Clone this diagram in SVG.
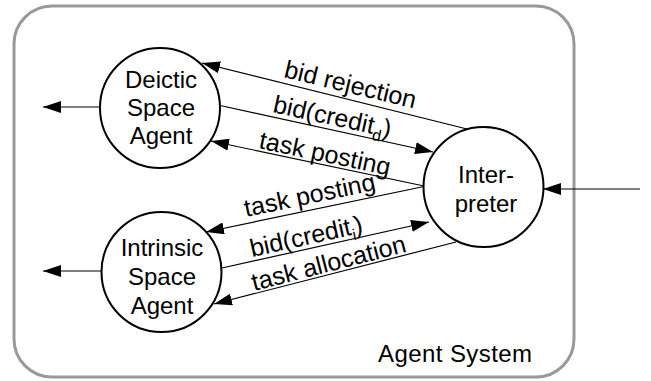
<svg xmlns="http://www.w3.org/2000/svg" width="651" height="381" viewBox="0 0 651 381">
<style>
  .node { fill: #fff; stroke: #000; stroke-width: 2; }
  .lbl { font-family: "Liberation Sans", Arial, sans-serif; font-size: 24px; fill: #000; }
  .elbl { font-size: 25px; }
  .edge { stroke: #000; stroke-width: 1.2; fill: none; marker-end: url(#ah); }
  .sub { font-size: 16px; }
</style>
<defs>
  <marker id="ah" viewBox="0 0 18 12" refX="18" refY="6" markerUnits="userSpaceOnUse" markerWidth="18" markerHeight="12" orient="auto">
    <path d="M0,0 L18,6 L0,12 z" fill="#000"/>
  </marker>
</defs>
<rect id="agent-system" x="14" y="6" width="560" height="371" rx="38" ry="38" fill="#fff" stroke="#999" stroke-width="3"/>
<text class="lbl" x="378" y="362" textLength="154">Agent System</text>
<g id="connectors">
  <line class="edge" x1="467" y1="129" x2="202" y2="63"/>
  <line class="edge" x1="218" y1="105" x2="433" y2="152"/>
  <line class="edge" x1="424" y1="186" x2="211" y2="141"/>
  <line class="edge" x1="424" y1="186.5" x2="206" y2="232"/>
  <line class="edge" x1="222" y1="268" x2="429" y2="222"/>
  <line class="edge" x1="456" y1="242" x2="214" y2="304"/>
  <line class="edge" x1="100" y1="107" x2="43" y2="107"/>
  <line class="edge" x1="101" y1="271" x2="43" y2="271"/>
  <line class="edge" x1="640" y1="189" x2="543" y2="189"/>
  <text class="lbl elbl" transform="translate(283,77) rotate(13.5)">bid rejection</text>
  <text class="lbl elbl" transform="translate(272,112) rotate(12.3)">bid(credit<tspan class="sub" dy="6">d</tspan><tspan dy="-6">)</tspan></text>
  <text class="lbl elbl" transform="translate(258,148) rotate(11.9)">task posting</text>
  <text class="lbl elbl" transform="translate(246,217) rotate(-11.8)">task posting</text>
  <text class="lbl elbl" transform="translate(252,257) rotate(-12.5)">bid(credit<tspan class="sub" dy="6">i</tspan><tspan dy="-6">)</tspan></text>
  <text class="lbl elbl" transform="translate(254,291) rotate(-14.4)">task allocation</text>
</g>
<g id="deictic">
  <circle class="node" cx="160" cy="108" r="60"/>
  <text class="lbl" x="161" y="88" text-anchor="middle">Deictic</text>
  <text class="lbl" x="161" y="116" text-anchor="middle">Space</text>
  <text class="lbl" x="161" y="144" text-anchor="middle">Agent</text>
</g>
<g id="intrinsic">
  <circle class="node" cx="161.5" cy="272" r="60"/>
  <text class="lbl" x="162" y="256" text-anchor="middle">Intrinsic</text>
  <text class="lbl" x="162" y="285" text-anchor="middle">Space</text>
  <text class="lbl" x="162" y="314" text-anchor="middle">Agent</text>
</g>
<g id="interpreter">
  <circle class="node" cx="483.5" cy="187" r="60"/>
  <text class="lbl" x="486" y="183" text-anchor="middle">Inter-</text>
  <text class="lbl" x="486" y="212" text-anchor="middle">preter</text>
</g>
</svg>
